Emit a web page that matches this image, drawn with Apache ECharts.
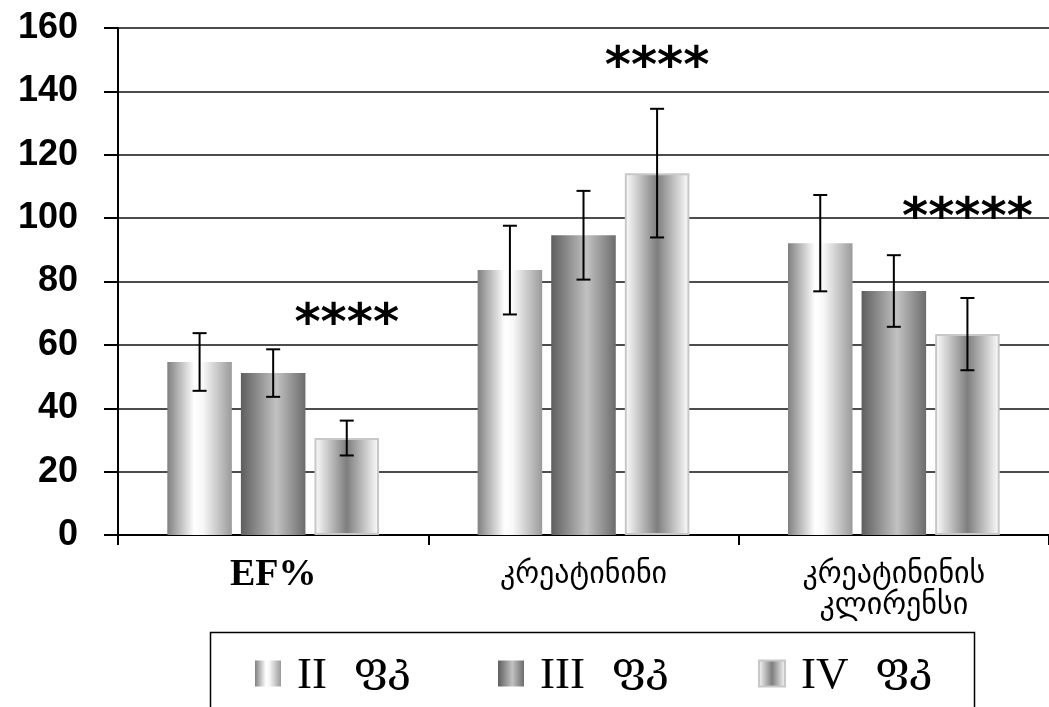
<!DOCTYPE html>
<html>
<head>
<meta charset="utf-8">
<script src="https://cdn.jsdelivr.net/npm/echarts@6/dist/echarts.min.js"></script>
<style>
html,body{margin:0;padding:0;background:#fff;}
#chart{width:1049px;height:707px;}
</style>
</head>
<body>
<div id="chart"></div>
<script>
const categories = ['EF%', 'კრეატინინი', 'კრეატინინის\nკლირენსი'];
const seriesNames = ['II  ფკ', 'III  ფკ', 'IV  ფკ'];
const valII = [54.6, 83.6, 92.1];
const valIII = [51.1, 94.6, 77.0];
const valIV = [30.6, 114.2, 63.4];
const errII = [9.1, 14.0, 15.2];
const errIII = [7.5, 14.0, 11.3];
const errIV = [5.5, 20.3, 11.4];
const starText = ['****', '****', '*****'];
const starValue = [66, 147, 99.3];
const yTicks = [0, 20, 40, 60, 80, 100, 120, 140, 160];

const BAR_W = 0.208, BAR_GAP = 0.14;

const grad = (stops) => ({
  type: 'linear', x: 0, y: 0, x2: 1, y2: 0,
  colorStops: stops.map(s => ({offset: s[0], color: s[1]}))
});
const colII = grad([[0, '#808080'], [0.42, '#ffffff'], [0.55, '#f8f8f8'], [1, '#9a9a9a']]);
const colIII = grad([[0, '#5e5e5e'], [0.55, '#c2c2c2'], [1, '#6c6c6c']]);
const colIV = grad([[0, '#ffffff'], [0.5, '#7e7e7e'], [1, '#ffffff']]);

const values = [valII, valIII, valIV];
const errs = [errII, errIII, errIV];

function barCenter(api, cat, k) {
  const band = api.size([1, 0])[0];
  const bw = band * BAR_W;
  const gap = bw * BAR_GAP;
  return api.coord([cat, 0])[0] + (k - 1) * (bw + gap);
}

function errSeries(k) {
  return {
    type: 'custom',
    name: 'err' + k,
    z: 5,
    silent: true,
    data: values[k].map((v, i) => [i, v, errs[k][i]]),
    encode: {x: 0, y: 1},
    renderItem: function (params, api) {
      const cat = api.value(0), v = api.value(1), e = api.value(2);
      const x = barCenter(api, cat, k);
      const yTop = api.coord([cat, v + e])[1];
      const yBot = api.coord([cat, v - e])[1];
      const hw = 7;
      const st = {stroke: '#000', lineWidth: 2};
      return {
        type: 'group',
        children: [
          {type: 'line', shape: {x1: x, y1: yTop, x2: x, y2: yBot}, style: st},
          {type: 'line', shape: {x1: x - hw, y1: yTop, x2: x + hw, y2: yTop}, style: st},
          {type: 'line', shape: {x1: x - hw, y1: yBot, x2: x + hw, y2: yBot}, style: st}
        ]
      };
    }
  };
}

const starSeries = {
  type: 'custom',
  name: 'stars',
  z: 6,
  silent: true,
  data: starValue.map((v, i) => [i, v, starText[i]]),
  encode: {x: 0, y: 1},
  renderItem: function (params, api) {
    const cat = api.value(0), v = api.value(1);
    const x = barCenter(api, cat, 2);
    const y = api.coord([cat, v])[1];
    return {
      type: 'text',
      x: x, y: y,
      style: {
        text: starText[params.dataIndex],
        fontFamily: 'DejaVu Sans',
        fontWeight: 'bold',
        fontSize: 50,
        fill: '#000',
        align: 'center',
        verticalAlign: 'middle'
      }
    };
  }
};

const legendLefts = [255, 498, 758];

const chart = echarts.init(document.getElementById('chart'), null, {renderer: 'canvas'});
chart.setOption({
  backgroundColor: '#fff',
  animation: false,
  grid: {left: 118, right: -6.5, top: 28, bottom: 172, containLabel: false},
  graphic: [{
    type: 'rect', left: 208, top: 630, silent: true,
    shape: {width: 764, height: 100},
    style: {fill: 'none', stroke: '#000', lineWidth: 1.5}
  }],
  legend: seriesNames.map((n, i) => ({
    data: [n], left: legendLefts[i], top: 648, padding: 0,
    itemWidth: 26, itemHeight: 26, icon: 'rect', selectedMode: false,
    formatter: name => {
      const parts = name.split(/\s+/);
      return '{r|' + parts[0] + '}{g|  ' + parts[1] + '}';
    },
    textStyle: {
      padding: [0, 0, 0, 11],
      rich: {
        r: {fontFamily: "'Liberation Serif', serif", fontSize: 45, lineHeight: 40, padding: [6, 0, 0, 0], color: '#000', verticalAlign: 'middle'},
        g: {fontFamily: "'DejaVu Serif', 'DejaVu Sans', serif", fontSize: 42, lineHeight: 34, padding: [0, 0, 6, 0], color: '#000', verticalAlign: 'middle'}
      }
    }
  })),
  xAxis: {
    type: 'category',
    data: categories,
    axisLine: {lineStyle: {color: '#000', width: 2}},
    axisTick: {show: true, alignWithLabel: false, length: 10, lineStyle: {color: '#000', width: 2}},
    axisLabel: {
      margin: 25,
      interval: 0,
      formatter: (v, i) => v.split('\n').map(s => '{' + (i === 0 ? 'big' : 'geo') + '|' + s + '}').join('\n'),
      rich: {
        big: {fontFamily: "'Liberation Serif', serif", fontWeight: 'bold', fontSize: 38, lineHeight: 30, color: '#000'},
        geo: {fontFamily: "'DejaVu Sans', sans-serif", fontSize: 30, lineHeight: 31, color: '#000'}
      }
    }
  },
  yAxis: {
    type: 'value',
    min: yTicks[0], max: yTicks[yTicks.length - 1], interval: yTicks[1] - yTicks[0],
    axisLine: {show: true, lineStyle: {color: '#000', width: 2}},
    axisTick: {show: true, length: 14, lineStyle: {color: '#000', width: 2}},
    axisLabel: {margin: 40, fontFamily: "'Liberation Sans', Arial, sans-serif", fontWeight: 'bold', fontSize: 36, color: '#000'},
    splitLine: {show: true, lineStyle: {color: '#111', width: 1.5}}
  },
  series: [
    {type: 'bar', name: seriesNames[0], data: valII, barWidth: (BAR_W * 100) + '%', barGap: (BAR_GAP * 100) + '%', itemStyle: {color: colII}, z: 2},
    {type: 'bar', name: seriesNames[1], data: valIII, barWidth: (BAR_W * 100) + '%', barGap: (BAR_GAP * 100) + '%', itemStyle: {color: colIII}, z: 2},
    {type: 'bar', name: seriesNames[2], data: valIV, barWidth: (BAR_W * 100) + '%', barGap: (BAR_GAP * 100) + '%', itemStyle: {color: colIV, borderColor: '#c8c8c8', borderWidth: 2}, z: 2},
    errSeries(0), errSeries(1), errSeries(2),
    starSeries
  ]
});
</script>
</body>
</html>
